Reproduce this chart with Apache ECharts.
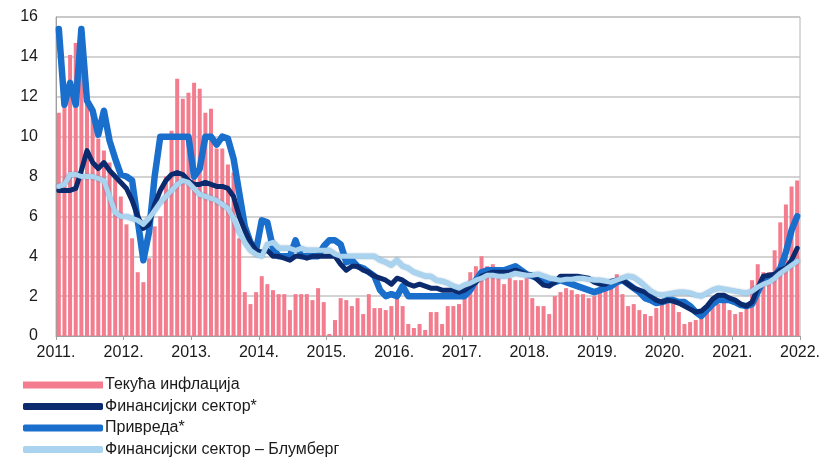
<!DOCTYPE html>
<html>
<head>
<meta charset="utf-8">
<script src="https://cdn.jsdelivr.net/npm/echarts@6/dist/echarts.min.js"></script>
<style>
  html, body { margin: 0; padding: 0; background: #fff; }
  #main { width: 828px; height: 460px; }
</style>
</head>
<body>
<div id="main"></div>
<script>
// година на x оси (ознаке на границама година)
var yearLabels = ["2011.", "2012.", "2013.", "2014.", "2015.", "2016.", "2017.", "2018.", "2019.", "2020.", "2021.", "2022."];

// Текућа инфлација, месечно јан 2011 - дец 2021
var inflation = [
  11.2, 12.6, 14.1, 14.7, 13.4, 12.0, 11.2, 9.9, 9.3, 8.7, 8.0, 7.0,
  5.6, 4.9, 3.2, 2.7, 3.9, 5.5, 6.0, 8.0, 10.3, 12.9, 11.9, 12.2,
  12.7, 12.4, 11.2, 11.4, 9.4, 9.4, 8.6, 8.2, 4.9, 2.2, 1.6, 2.2,
  3.0, 2.6, 2.3, 2.1, 2.1, 1.3, 2.1, 2.1, 2.1, 1.8, 2.4, 1.7,
  0.1, 0.8, 1.9, 1.8, 1.5, 1.9, 1.1, 2.1, 1.4, 1.4, 1.3, 1.5,
  2.0, 1.5, 0.6, 0.4, 0.6, 0.3, 1.2, 1.2, 0.6, 1.5, 1.5, 1.6,
  2.0, 3.2, 3.5, 4.0, 3.5, 3.6, 3.0, 2.6, 2.9, 2.8, 2.8, 2.9,
  1.9, 1.5, 1.5, 1.1, 2.0, 2.2, 2.4, 2.3, 2.1, 2.1, 1.9, 2.0,
  2.4, 2.4, 2.7, 3.1, 2.1, 1.5, 1.6, 1.3, 1.1, 1.0, 1.4, 1.8,
  1.8, 1.75, 1.2, 0.6, 0.7, 0.8, 1.1, 1.3, 1.5, 1.6, 1.8, 1.3,
  1.1, 1.2, 1.6, 2.8, 3.6, 3.2, 3.2, 4.3, 5.7, 6.6, 7.5, 7.8
];

// Финансијски сектор*
var finSector = [
  7.3, 7.3, 7.3, 7.4, 8.3, 9.3, 8.7, 8.4, 8.7, 8.3, 8.0, 7.7,
  7.4, 6.8, 6.0, 5.4, 5.6, 6.6, 7.3, 7.8, 8.1, 8.2, 8.1, 7.8,
  7.6, 7.6, 7.7, 7.6, 7.5, 7.5, 7.4, 7.0, 6.0, 5.3, 4.7, 4.3,
  4.2, 4.3, 4.0, 4.0, 3.9, 3.8, 4.0, 4.0, 3.9, 4.0, 4.0, 4.0,
  4.0, 4.0, 3.6, 3.3, 3.5, 3.5, 3.3, 3.2, 3.0, 2.9, 2.8, 2.6,
  2.9, 2.8, 2.6, 2.5, 2.6, 2.5, 2.4, 2.4, 2.3, 2.3, 2.3, 2.2,
  2.3, 2.5, 2.7, 3.0, 3.1, 3.2, 3.2, 3.2, 3.2, 3.3, 3.2, 3.1,
  3.05, 2.8, 2.55, 2.5, 2.7, 3.0, 3.0, 3.0, 3.0, 2.95, 2.9, 2.7,
  2.6, 2.6, 2.75, 2.8, 2.8, 2.6, 2.4, 2.3, 2.2, 2.0, 1.8, 1.7,
  1.8, 1.75, 1.65, 1.5, 1.35, 1.2, 1.25, 1.5, 1.85, 2.05, 2.05, 1.9,
  1.8, 1.6, 1.5, 1.7, 2.4, 3.0, 3.05, 3.1, 3.3, 3.4, 3.8, 4.4
];

// Привреда*
var economy = [
  15.4, 11.6, 12.7, 11.6, 15.4, 11.8, 11.3, 10.1, 11.3, 9.8, 8.9, 8.1,
  8.0, 7.8, 5.8, 3.8, 5.2, 8.0, 10.0, 10.0, 10.0, 10.0, 10.0, 10.0,
  8.0, 8.4, 10.0, 10.0, 9.6, 10.0, 9.9, 8.9, 7.2, 5.5, 4.7, 4.3,
  5.8, 5.7, 4.4, 4.0, 4.0, 4.0, 4.8, 4.0, 4.0, 4.0, 4.0, 4.5,
  4.8, 4.8, 4.6, 3.7, 3.8, 3.5, 3.4, 3.2, 3.0, 2.3, 2.0, 2.1,
  2.0, 2.5, 2.0, 2.0, 2.0, 2.0, 2.0, 2.0, 2.0, 2.0, 2.0, 2.0,
  2.0, 2.3, 2.8, 3.2, 3.3, 3.3, 3.3, 3.3, 3.4, 3.5, 3.3, 3.1,
  3.0, 2.9, 2.8, 2.7, 2.7, 2.8, 2.7, 2.6, 2.5, 2.4, 2.3, 2.2,
  2.3, 2.4, 2.5, 2.7, 2.8, 2.6, 2.4, 2.2, 1.9, 1.8, 1.65, 1.7,
  1.8, 1.8, 1.7, 1.7, 1.5, 1.2, 1.0, 1.3, 1.6, 1.8, 1.8, 1.8,
  1.7, 1.55, 1.5, 1.6, 2.2, 2.8, 2.9, 3.0, 3.4, 4.2, 5.3, 6.0
];

// Финансијски сектор – Блумберг
var bloomberg = [
  7.5, 7.6, 8.1, 8.1, 8.0, 8.0, 8.0, 7.9, 7.8, 7.0, 6.2, 6.0,
  6.0, 5.9, 5.8, 5.6, 5.9, 6.3, 6.7, 7.0, 7.3, 7.6, 7.8, 7.7,
  7.4, 7.1, 7.0, 6.9, 6.8, 6.6, 6.4, 5.9, 5.2, 4.7, 4.3, 4.1,
  4.0, 4.6, 4.7, 4.4, 4.4, 4.4, 4.3, 4.4, 4.3, 4.3, 4.3, 4.3,
  4.3, 4.1, 4.0, 4.0, 4.0, 4.0, 4.0, 4.0, 4.0, 3.8, 3.7, 3.55,
  3.8, 3.5, 3.4, 3.2, 3.1, 3.0, 3.0, 2.8, 2.75, 2.65, 2.5, 2.4,
  2.55, 2.65, 2.8, 2.9, 3.05, 3.05, 3.0, 3.0, 3.05, 3.15, 3.1, 3.05,
  3.05, 3.1, 3.0, 2.9, 2.85, 2.8, 2.85, 2.85, 2.9, 2.9, 2.85, 2.8,
  2.8, 2.75, 2.7, 2.8, 2.9, 3.0, 2.95, 2.75, 2.5, 2.25, 2.1, 2.05,
  2.1, 2.15, 2.2, 2.2, 2.15, 2.05, 2.0, 2.15, 2.3, 2.4, 2.35, 2.3,
  2.25, 2.2, 2.15, 2.25, 2.45, 2.6, 2.7, 2.9, 3.15, 3.35, 3.55, 3.75
];

var seriesNames = ["Текућа инфлација", "Финансијски сектор*", "Привреда*", "Финансијски сектор – Блумберг"];

// месечни индекс -> средина месеца на оси
function toPoints(arr) {
  return arr.map(function (v, i) { return [i + 0.5, v]; });
}

var myChart = echarts.init(document.getElementById("main"));

var option = {
  animation: false,
  grid: {
    left: 56,
    right: 28,
    top: 17,
    bottom: 124,
    show: true,
    borderColor: "#b4b4b4",
    borderWidth: 1
  },
  legend: {
    orient: "vertical",
    left: 18,
    top: 372,
    height: 100,
    itemGap: 5.5,
    itemWidth: 80,
    itemHeight: 7,
    textStyle: {
      fontFamily: "Liberation Sans, Arial",
      fontSize: 16,
      color: "#1a1a1a",
      padding: [0, 0, 0, -3]
    },
    data: [
      { name: seriesNames[0], icon: "rect" },
      { name: seriesNames[1], icon: "roundRect" },
      { name: seriesNames[2], icon: "roundRect" },
      { name: seriesNames[3], icon: "roundRect" }
    ]
  },
  xAxis: {
    type: "value",
    min: 0,
    max: 132,
    interval: 12,
    axisLine: { show: true, lineStyle: { color: "#a0a0a0" } },
    axisTick: { show: true, length: 4, lineStyle: { color: "#a0a0a0" } },
    splitLine: { show: false },
    axisLabel: {
      fontFamily: "Liberation Sans, Arial",
      fontSize: 16,
      color: "#1a1a1a",
      margin: 9,
      formatter: function (v) { return yearLabels[v / 12]; }
    }
  },
  yAxis: {
    type: "value",
    min: 0,
    max: 16,
    interval: 2,
    axisLine: { show: true, lineStyle: { color: "#a0a0a0" } },
    axisTick: { show: false },
    splitLine: { lineStyle: { color: "#c4c4c4", width: 1.5 } },
    axisLabel: {
      fontFamily: "Liberation Sans, Arial",
      fontSize: 16,
      color: "#1a1a1a",
      margin: 18
    }
  },
  series: [
    {
      name: seriesNames[0],
      type: "bar",
      barWidth: 4,
      itemStyle: { color: "#f37d8e" },
      data: toPoints(inflation),
      z: 1
    },
    {
      name: seriesNames[2],
      type: "line",
      showSymbol: false,
      symbol: "none",
      color: "#1a6fcc",
      lineStyle: { width: 6.5, color: "#1a6fcc", cap: "round", join: "round" },
      data: toPoints(economy),
      z: 2
    },
    {
      name: seriesNames[1],
      type: "line",
      showSymbol: false,
      symbol: "none",
      color: "#0c2a6e",
      lineStyle: { width: 5, color: "#0c2a6e", cap: "round", join: "round" },
      data: toPoints(finSector),
      z: 3
    },
    {
      name: seriesNames[3],
      type: "line",
      showSymbol: false,
      symbol: "none",
      color: "#a9d3ee",
      lineStyle: {
        width: 5,
        color: "#a9d3ee",
        cap: "round",
        join: "round",
        shadowColor: "rgba(40,110,170,0.6)",
        shadowBlur: 2
      },
      data: toPoints(bloomberg),
      z: 4
    }
  ]
};

myChart.setOption(option);
window.addEventListener("resize", function () {
  myChart.resize();
});
</script>
</body>
</html>
